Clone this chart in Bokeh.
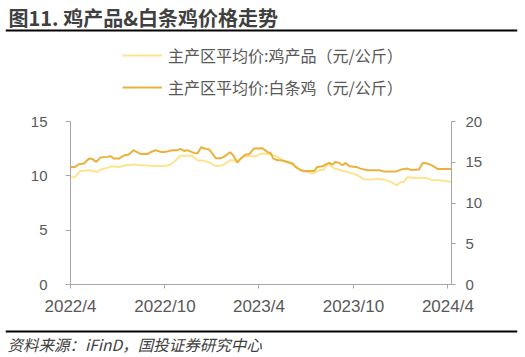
import pandas as pd
from bokeh.plotting import figure
from bokeh.layouts import column
from bokeh.core.properties import value
from bokeh.models import (Range1d, LinearAxis, FixedTicker, CustomJSTickFormatter,
                          Span, Legend, LegendItem, ColumnDataSource)
from bokeh.embed import file_html
from bokeh.resources import INLINE

# ---- data ----
title_text = "图11. 鸡产品&白条鸡价格走势"
source_text = "资料来源：iFinD，国投证券研究中心"
name_light = "主产区平均价:鸡产品（元/公斤）"
name_dark = "主产区平均价:白条鸡（元/公斤）"

dark_dates = ["2022-04-01", "2022-04-10", "2022-04-17", "2022-04-27", "2022-05-07", "2022-05-13",
              "2022-05-21", "2022-05-29", "2022-06-11", "2022-06-18", "2022-06-24", "2022-07-04",
              "2022-07-13", "2022-07-23", "2022-08-01", "2022-08-08", "2022-08-15", "2022-08-28",
              "2022-09-03", "2022-09-13", "2022-09-23", "2022-10-02", "2022-10-15", "2022-10-25",
              "2022-10-31", "2022-11-07", "2022-11-13", "2022-11-26", "2022-12-03", "2022-12-10",
              "2022-12-19", "2022-12-25", "2023-01-01", "2023-01-07", "2023-01-17", "2023-01-23",
              "2023-02-04", "2023-02-10", "2023-02-18", "2023-02-25", "2023-03-06", "2023-03-13",
              "2023-03-22", "2023-04-08", "2023-04-17", "2023-04-24", "2023-04-29", "2023-05-07",
              "2023-05-13", "2023-05-20", "2023-05-26", "2023-06-05", "2023-06-11", "2023-06-21",
              "2023-06-27", "2023-07-17", "2023-07-23", "2023-08-02", "2023-08-15", "2023-08-21",
              "2023-08-28", "2023-09-03", "2023-09-10", "2023-09-16", "2023-09-23", "2023-10-06",
              "2023-10-15", "2023-10-28", "2023-11-20", "2023-11-30", "2023-12-22", "2024-01-01",
              "2024-01-14", "2024-01-20", "2024-02-05", "2024-02-12", "2024-02-22", "2024-03-02",
              "2024-03-12", "2024-04-07"]
dark_values = [14.43, 14.43, 14.75, 14.84, 15.45, 15.41,
               15.04, 15.57, 15.66, 15.74, 15.45, 15.45,
               15.82, 15.96, 16.48, 16.23, 16.00, 16.00,
               16.23, 16.48, 16.27, 16.27, 16.48, 16.48,
               16.64, 16.39, 16.48, 16.15, 16.07, 16.84,
               16.64, 16.60, 16.07, 15.50, 15.50, 15.66,
               16.23, 15.86, 14.96, 15.45, 15.94, 15.98,
               16.68, 16.72, 16.27, 16.07, 15.45, 15.25,
               15.25, 15.16, 15.04, 14.84, 14.43, 14.02,
               13.93, 13.93, 14.43, 14.51, 14.92, 14.71,
               15.04, 14.92, 14.63, 14.92, 14.51, 14.43,
               14.22, 14.02, 14.02, 13.85, 13.85, 14.10,
               14.22, 14.06, 14.10, 14.92, 14.84, 14.59,
               14.18, 14.18]

light_dates = ["2022-04-01", "2022-04-10", "2022-04-20", "2022-05-07", "2022-05-23", "2022-05-29",
               "2022-06-11", "2022-06-21", "2022-07-04", "2022-07-17", "2022-08-02", "2022-08-15",
               "2022-08-28", "2022-09-16", "2022-10-02", "2022-10-12", "2022-10-22", "2022-10-31",
               "2022-11-23", "2022-12-03", "2022-12-16", "2022-12-28", "2023-01-07", "2023-01-20",
               "2023-02-05", "2023-02-18", "2023-03-03", "2023-03-26", "2023-04-04", "2023-04-24",
               "2023-05-07", "2023-05-20", "2023-06-02", "2023-06-21", "2023-07-04", "2023-07-14",
               "2023-07-26", "2023-08-05", "2023-08-12", "2023-08-25", "2023-09-07", "2023-09-26",
               "2023-10-09", "2023-10-22", "2023-11-04", "2023-11-17", "2023-11-30", "2023-12-12",
               "2023-12-24", "2024-01-01", "2024-01-07", "2024-01-14", "2024-01-27", "2024-02-18",
               "2024-03-02", "2024-03-18", "2024-04-07"]
light_values = [9.84, 9.90, 10.45, 10.51, 10.36, 10.58,
                10.73, 10.88, 10.82, 10.97, 11.04, 10.97,
                10.94, 10.91, 10.91, 11.04, 11.44, 11.84,
                11.84, 11.44, 11.38, 11.19, 10.88, 10.97,
                11.44, 11.38, 11.80, 11.80, 12.05, 11.99,
                11.74, 11.34, 11.13, 10.51, 10.36, 10.20,
                10.51, 10.57, 11.13, 10.67, 10.51, 10.27,
                10.05, 9.68, 9.65, 9.74, 9.65, 9.44,
                9.13, 9.44, 9.44, 9.90, 9.81, 9.81,
                9.59, 9.59, 9.44]

x_ticks = ["2022-04-01", "2022-10-01", "2023-04-01", "2023-10-01", "2024-04-01"]
left_ticks = [0, 5, 10, 15]
right_ticks = [0, 5, 10, 15, 20]

# ---- styling ----
LIGHT = "#FFE38F"
DARK = "#EAB23C"
AXIS_GRAY = "#A6A6A6"
TICK_TEXT = "#595959"
CJK = "Noto Sans CJK SC"
W = 525


def ms(s):
    return pd.Timestamp(s).value / 1e6


def blank(fig):
    fig.xgrid.visible = False
    fig.ygrid.visible = False
    fig.outline_line_color = None
    fig.background_fill_color = "white"
    fig.border_fill_color = "white"


# ---- header: title, rule, legend ----
HH = 110
head = figure(width=W, height=HH, x_range=Range1d(0, 512), y_range=Range1d(0, HH),
              x_axis_location=None, y_axis_location=None, frame_align=False,
              output_backend="svg", toolbar_location=None,
              min_border_left=5, min_border_right=8, min_border_top=0, min_border_bottom=0)
blank(head)
head.text(x=[3], y=[HH - 17], text=[title_text], text_font=value(CJK),
          text_font_size="20px", text_font_style="bold", text_color="#404040",
          text_baseline="middle", text_align="left")
head.add_layout(Span(location=HH - 30, dimension="width", line_color="#000000", line_width=2))
# legend swatches (the series themselves are drawn in the chart below)
leg_light = head.line(x=[-50, -40], y=[-50, -50], line_color=LIGHT, line_width=2)
leg_dark = head.line(x=[-50, -40], y=[-60, -60], line_color=DARK, line_width=2)
legend = Legend(items=[LegendItem(label=name_light, renderers=[leg_light]),
                       LegendItem(label=name_dark, renderers=[leg_dark])],
                location=(117, 11), orientation="vertical",
                glyph_width=40, glyph_height=20, label_height=20,
                label_standoff=6, spacing=8, padding=0, margin=0,
                border_line_color=None, background_fill_alpha=0,
                label_text_font=CJK, label_text_font_size="16px",
                label_text_color=TICK_TEXT)
head.add_layout(legend, "center")

# ---- main chart ----
p = figure(width=W, height=215, x_axis_type="datetime",
           x_range=Range1d(ms("2022-04-01"), ms("2024-04-08")),
           y_range=Range1d(0, 15), frame_align=False,
           output_backend="svg", toolbar_location=None,
           min_border_left=70, min_border_right=74,
           min_border_top=11, min_border_bottom=41)
p.extra_y_ranges = {"right": Range1d(0, 20)}
blank(p)

light_src = ColumnDataSource(dict(x=pd.to_datetime(light_dates), y=light_values))
dark_src = ColumnDataSource(dict(x=pd.to_datetime(dark_dates), y=dark_values))
p.line("x", "y", source=light_src, line_color=LIGHT, line_width=2)
p.line("x", "y", source=dark_src, line_color=DARK, line_width=2, y_range_name="right")

xa = p.xaxis[0]
xa.ticker = FixedTicker(ticks=[ms(t) for t in x_ticks])
xa.formatter = CustomJSTickFormatter(code="""
const d = new Date(tick);
return d.getUTCFullYear() + "/" + (d.getUTCMonth() + 1);
""")
xa.minor_tick_line_color = None
xa.major_tick_in = 0
xa.major_tick_out = 4
xa.major_label_standoff = 8
xa.axis_line_color = AXIS_GRAY
xa.major_tick_line_color = AXIS_GRAY
xa.major_label_text_font = "Liberation Sans"
xa.major_label_text_font_size = "17px"
xa.major_label_text_color = TICK_TEXT

ya = p.yaxis[0]
ya.ticker = FixedTicker(ticks=left_ticks)
ya.minor_tick_line_color = None
ya.major_tick_in = 0
ya.major_tick_out = 5
ya.major_label_standoff = 18
ya.axis_line_color = AXIS_GRAY
ya.major_tick_line_color = AXIS_GRAY
ya.major_label_text_font = "Liberation Sans"
ya.major_label_text_font_size = "15px"
ya.major_label_text_color = TICK_TEXT

ra = LinearAxis(y_range_name="right", ticker=FixedTicker(ticks=right_ticks))
ra.minor_tick_line_color = None
ra.major_tick_in = 0
ra.major_tick_out = 4
ra.major_label_standoff = 10
ra.axis_line_color = AXIS_GRAY
ra.major_tick_line_color = AXIS_GRAY
ra.major_label_text_font = "Liberation Sans"
ra.major_label_text_font_size = "15px"
ra.major_label_text_color = TICK_TEXT
p.add_layout(ra, "right")

# ---- footer: rule and source ----
FH = 32
foot = figure(width=W, height=FH, x_range=Range1d(0, 512), y_range=Range1d(0, FH),
              x_axis_location=None, y_axis_location=None, frame_align=False,
              output_backend="svg", toolbar_location=None,
              min_border_left=5, min_border_right=8, min_border_top=0, min_border_bottom=0)
blank(foot)
foot.add_layout(Span(location=FH - 6, dimension="width", line_color="#000000", line_width=2))
foot.text(x=[2], y=[FH - 18], text=[source_text], text_font=value(CJK),
          text_font_size="15.5px", text_font_style="italic", text_color="#404040",
          text_baseline="middle", text_align="left")

layout = column(head, p, foot, spacing=0)
open("out.html", "w").write(file_html(layout, INLINE))
